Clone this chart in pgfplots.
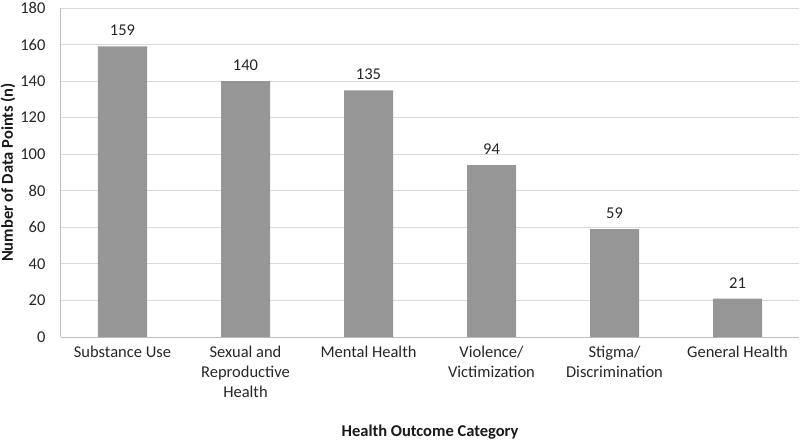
\documentclass[border=0pt]{standalone}
\usepackage{pgfplots}
\pgfplotsset{compat=1.18}
\usepackage{fontspec}
\setmainfont{Carlito}
\definecolor{barc}{HTML}{969696}
\definecolor{gridc}{HTML}{D9D9D9}
\definecolor{axc}{HTML}{BFBFBF}
\begin{document}
\begin{tikzpicture}
\useasboundingbox (-61pt,-103pt) rectangle (739pt,337pt);
\begin{axis}[
  at={(0,0)}, anchor=south west,
  scale only axis, width=738pt, height=329pt,
  xmin=-0.5, xmax=5.5, ymin=0, ymax=180,
  ytick={0,20,...,180},
  xtick={0,1,2,3,4,5},
  xticklabels={Substance Use,{Sexual and\\Reproductive\\Health},Mental Health,{Violence/\\Victimization},{Stigma/\\Discrimination},General Health},
  axis lines*=left,
  axis line style={axc, line width=1pt},
  ymajorgrids, grid style={gridc, line width=1pt},
  major tick length=0pt,
  /pgf/number format/assume math mode=true,
  tick label style={font=\fontsize{16.5}{20}\selectfont, text=black!85},
  yticklabel style={xshift=-12pt},
  xticklabel style={align=center, yshift=-6pt},
  ybar, bar width=49pt,
  nodes near coords,
  nodes near coords style={font=\fontsize{16.5}{18}\selectfont, text=black!85, yshift=7pt},
  ylabel={\textbf{Number of Data Points (n)}},
  xlabel={\textbf{Health Outcome Category}},
  label style={font=\fontsize{16.5}{18}\selectfont, text=black!90},
  ylabel style={at={(axis description cs:0,0.5)}, anchor=center, rotate=0, yshift=53pt},
  xlabel style={at={(axis description cs:0.5,0)}, anchor=center, yshift=-95pt},
  clip=false,
]
\addplot[fill=barc, draw=none] coordinates {(0,159) (1,140) (2,135) (3,94) (4,59) (5,21)};
\end{axis}
\end{tikzpicture}
\end{document}
